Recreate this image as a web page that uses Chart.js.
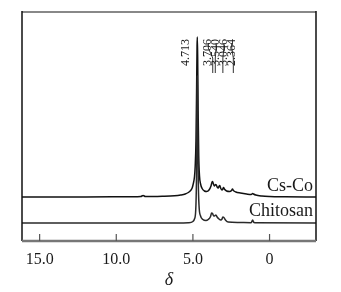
<!DOCTYPE html>
<html><head><meta charset="utf-8">
<script src="https://cdn.jsdelivr.net/npm/chart.js@4.4.1/dist/chart.umd.min.js"></script>
<style>html,body{margin:0;padding:0;background:#fff}#wrap{width:341px;height:292px}</style>
</head><body><div id="wrap"><canvas id="c" width="341" height="292"></canvas></div>
<script>
// chemical shift (δ, ppm) and intensity pairs
const csCoShift = [16.15,12,9,8.4,8.25,8.1,7,6.2,5.8,5.5,5.3,5.15,5.05,4.98,4.9,4.85,4.8,4.76,4.73,4.713,4.69,4.66,4.62,4.57,4.5,4.4,4.25,4.1,3.95,3.82,3.76,3.72,3.66,3.6,3.55,3.5,3.42,3.35,3.3,3.25,3.18,3.1,3.05,3.0,2.95,2.8,2.6,2.48,2.42,2.36,2.2,1.9,1.5,1.2,1.1,1.05,0.9,0.5,0,-1,-3.03];
const csCoValue = [44,44,44.3,44.5,45.5,44.5,44.8,45.3,46,47,48.5,50.5,53,57,64,75,100,150,195,204,185,130,85,65,57,52.5,50,49.5,51,55,58.5,59.5,57,55,56,56.5,54,53,54.5,55.5,52.5,51,52,53.5,52,50,49.5,50.5,52,50.5,49,48,47,46.5,47.5,47,46,45,44.5,44.2,44];
const chitosanShift = [16.15,6,5.3,5.0,4.9,4.82,4.77,4.73,4.713,4.69,4.65,4.6,4.5,4.35,4.15,4.0,3.85,3.78,3.72,3.64,3.55,3.5,3.42,3.3,3.18,3.1,3.05,2.98,2.85,2.7,2.0,1.2,1.1,1.05,0.95,-3.03];
const chitosanValue = [18,18,18.3,19.5,22,30,60,140,165,120,60,35,25,21.5,20.5,21.5,24.5,28,27.5,25,25.5,26,24,22,21,22,24,23.5,20.5,19,18.5,18.3,21,19,18.2,18];
const seriesNames = ["Cs-Co","Chitosan"];
const tickValues = [15,10,5,0];
const tickLabels = ["15.0","10.0","5.0","0"];
const peakValues = [4.713,3.706,3.540,3.046,2.364];
const peakLabels = ["4.713","3.706","3.540","3.046","2.364"];

const toPts = (xs, ys) => xs.map((x,i)=>({x:x,y:ys[i]}));
const serif = "'Liberation Serif','DejaVu Serif',serif";
const ink = '#1a1a1a';

const decor = {
  id:'decor',
  afterDatasetsDraw(chart){
    const {ctx, chartArea:a, scales:{x,y}} = chart;
    ctx.save();
    // frame
    ctx.strokeStyle='#888'; ctx.lineWidth=2;
    ctx.beginPath(); ctx.moveTo(a.left,a.top); ctx.lineTo(a.right,a.top); ctx.stroke();
    ctx.strokeStyle='#111'; ctx.lineWidth=1.5;
    ctx.beginPath(); ctx.moveTo(a.left,a.top-1); ctx.lineTo(a.left,a.bottom); ctx.moveTo(a.right,a.top-1); ctx.lineTo(a.right,a.bottom); ctx.stroke();
    ctx.strokeStyle='#777'; ctx.lineWidth=2.5;
    ctx.beginPath(); ctx.moveTo(a.left,a.bottom); ctx.lineTo(a.right,a.bottom); ctx.stroke();
    // inward ticks
    ctx.strokeStyle='#555'; ctx.lineWidth=1.2;
    tickValues.forEach(v=>{const px=x.getPixelForValue(v); ctx.beginPath(); ctx.moveTo(px,a.bottom); ctx.lineTo(px,a.bottom-7); ctx.stroke();});
    // series names
    ctx.fillStyle=ink; ctx.font="18px "+serif; ctx.textAlign='right'; ctx.textBaseline='alphabetic';
    ctx.fillText(seriesNames[0], a.right-3, y.getPixelForValue(csCoValue[0])-6);
    ctx.fillText(seriesNames[1], a.right-3, y.getPixelForValue(chitosanValue[0])-7);
    // peak labels
    ctx.font="12px "+serif; ctx.textAlign='right'; ctx.textBaseline='middle';
    const p0 = x.getPixelForValue(peakValues[0]);
    const drawRot=(txt,cx,yb)=>{ctx.save(); ctx.translate(cx,yb); ctx.rotate(-Math.PI/2); ctx.fillText(txt,0,0); ctx.restore();};
    drawRot(peakLabels[0], p0-11, 39);
    const n = peakValues.length-1;
    const centers = peakValues.slice(1).map(v=>x.getPixelForValue(v));
    const mid = (centers[0]+centers[n-1])/2 - 3;
    ctx.strokeStyle=ink; ctx.lineWidth=0.9;
    for(let i=0;i<n;i++){
      const lx = mid + (i-(n-1)/2)*7.8;
      drawRot(peakLabels[i+1], lx, 39);
      ctx.beginPath(); ctx.moveTo(lx,43); ctx.lineTo(lx,48); ctx.lineTo(centers[i],58); ctx.lineTo(centers[i],73); ctx.stroke();
    }
    ctx.restore();
  }
};

new Chart(document.getElementById('c'), {
  type:'line',
  data:{datasets:[
    {label:seriesNames[1], data:toPts(chitosanShift,chitosanValue), borderColor:'#2a2a2a', borderWidth:1.5, pointRadius:0, cubicInterpolationMode:'monotone'},
    {label:seriesNames[0], data:toPts(csCoShift,csCoValue), borderColor:'#111', borderWidth:1.5, pointRadius:0, cubicInterpolationMode:'monotone'}
  ]},
  options:{
    responsive:false, animation:false, devicePixelRatio:1,
    layout:{padding:{left:22,right:25,top:12,bottom:0}},
    plugins:{legend:{display:false}, tooltip:{enabled:false}},
    scales:{
      x:{type:'linear', reverse:true, min:-3.03, max:16.15,
        afterBuildTicks:s=>{s.ticks=tickValues.map(v=>({value:v}));},
        afterFit:s=>{s.height=51;},
        grid:{display:false, drawTicks:false}, border:{display:false},
        ticks:{padding:9, color:ink, font:{family:serif,size:16}, maxRotation:0,
          callback:(v)=>tickLabels[tickValues.indexOf(v)]},
        title:{display:true, text:'δ', color:ink, font:{family:serif,size:18,style:'italic'}, padding:{top:0,bottom:1}}
      },
      y:{display:false, min:0, max:229}
    }
  },
  plugins:[decor]
});
</script></body></html>
